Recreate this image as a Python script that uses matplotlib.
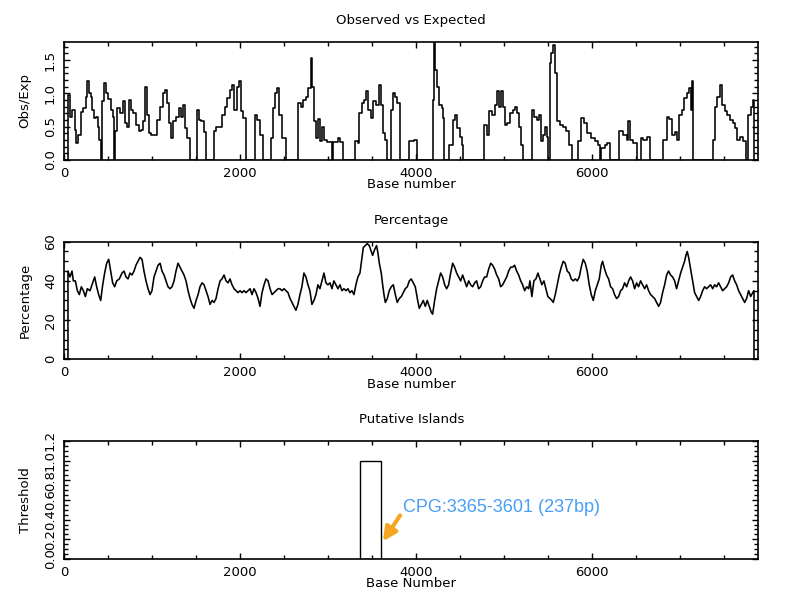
import numpy as np
import matplotlib
matplotlib.use("Agg")
import matplotlib.pyplot as plt
from matplotlib.ticker import MultipleLocator, FixedLocator

seq_len = 7893

# observed/expected CpG ratio (step breakpoints: base, value from that base on)
oe_base = [0, 45, 68, 91, 121, 136, 163, 190, 220, 250, 265, 280, 303, 322, 341, 364, 387, 402, 417,
           436, 455, 478, 504, 531, 553, 572, 584, 606, 637, 667, 694, 720, 743, 766, 788, 819, 849,
           879, 902, 921, 940, 963, 985, 1023, 1061, 1092, 1122, 1145, 1167, 1190, 1213, 1243, 1273,
           1304, 1334, 1357, 1376, 1402, 1433, 1508, 1531, 1561, 1592, 1611, 1706, 1728, 1766, 1796,
           1827, 1857, 1887, 1910, 1933, 1963, 1986, 2009, 2039, 2069, 2172, 2198, 2228, 2266, 2350,
           2373, 2403, 2426, 2448, 2479, 2520, 2655, 2663, 2689, 2720, 2750, 2776, 2803, 2811, 2822,
           2841, 2864, 2890, 2909, 2936, 2958, 2985, 3042, 3053, 3118, 3137, 3167, 3311, 3337, 3356,
           3383, 3409, 3432, 3455, 3485, 3516, 3546, 3576, 3599, 3622, 3644, 3667, 3713, 3735, 3766,
           3788, 3819, 3925, 3978, 4008, 4198, 4205, 4220, 4243, 4266, 4292, 4311, 4323, 4380, 4418,
           4444, 4471, 4501, 4520, 4539, 4774, 4804, 4834, 4865, 4895, 4918, 4941, 4963, 4986, 5009,
           5039, 5069, 5100, 5130, 5153, 5176, 5198, 5220, 5315, 5341, 5372, 5398, 5421, 5447, 5470,
           5485, 5504, 5519, 5538, 5561, 5584, 5606, 5637, 5675, 5705, 5735, 5769, 5845, 5872, 5910,
           5948, 5985, 6035, 6073, 6092, 6103, 6148, 6175, 6205, 6311, 6357, 6395, 6414, 6433, 6471,
           6509, 6558, 6584, 6622, 6660, 6812, 6850, 6880, 6910, 6941, 6971, 6994, 7024, 7047, 7077,
           7100, 7123, 7134, 7153, 7380, 7399, 7426, 7456, 7479, 7509, 7539, 7570, 7600, 7626, 7653,
           7683, 7714, 7752, 7778, 7805, 7828, 7843, 7893]
oe_val = [0, 0.98, 0.65, 0.75, 0.45, 0.25, 0.38, 0.72, 0.78, 0.95, 1.18, 1.0, 0.95, 0.75, 0.63, 0.65,
          0.5, 0.3, 0, 0.88, 1.15, 1.0, 0.92, 0.75, 0.65, 0, 0.43, 0.78, 0.7, 0.88, 0.55, 0.5, 0.9,
          0.75, 0.7, 0.53, 0.43, 0.45, 0.58, 1.1, 0.68, 0.4, 0.38, 0.37, 0.6, 0.8, 1.0, 1.05, 0.85,
          0.55, 0.33, 0.58, 0.65, 0.78, 0.65, 0.82, 0.48, 0.33, 0, 0.75, 0.6, 0.58, 0.42, 0, 0.43,
          0.5, 0.5, 0.68, 0.8, 0.93, 1.05, 1.13, 0.75, 1.1, 1.18, 0.73, 0.63, 0, 0.68, 0.6, 0.38, 0,
          0.33, 0.78, 1.0, 1.08, 0.68, 0.33, 0, 0.43, 0.85, 0.8, 0.9, 0.95, 1.08, 1.2, 1.53, 1.1,
          0.58, 0.33, 0.62, 0.28, 0.5, 0.3, 0.27, 0, 0.27, 0.33, 0.27, 0, 0.28, 0.25, 0.7, 0.85, 0.9,
          1.03, 0.75, 0.63, 0.88, 0.83, 1.13, 0.83, 0.4, 0.3, 0, 0.75, 1.0, 0.95, 0.85, 0, 0.28, 0.3,
          0, 0.9, 1.75, 1.35, 1.1, 0.83, 0.78, 0.63, 0, 0.23, 0.6, 0.68, 0.48, 0.35, 0.23, 0, 0.53,
          0.38, 0.73, 0.68, 0.83, 1.03, 0.8, 1.03, 0.8, 0.53, 0.55, 0.7, 0.75, 0.8, 0.7, 0.5, 0.23, 0,
          0.75, 0.65, 0.6, 0.68, 0.28, 0.38, 0.5, 0.35, 0, 1.45, 1.6, 1.73, 1.3, 0.58, 0.53, 0.5,
          0.43, 0.23, 0, 0.28, 0.63, 0.55, 0.4, 0.33, 0.28, 0.23, 0, 0.18, 0.23, 0.25, 0, 0.43, 0.38,
          0.3, 0.58, 0.3, 0.25, 0, 0.33, 0.3, 0.35, 0, 0.3, 0.65, 0.62, 0.38, 0.42, 0.3, 0.68, 0.75,
          0.93, 1.0, 1.08, 0.75, 1.18, 0, 0.3, 0.8, 0.95, 1.13, 0.83, 0.73, 0.68, 0.6, 0.55, 0.48,
          0.3, 0.35, 0.28, 0, 0.68, 0.8, 0.9, 0, 0]

# GC percentage
pc_base = [0, 45, 45, 68, 91, 106, 129, 152, 174, 197, 220, 243, 265, 296, 318, 349, 371, 394, 417,
           440, 462, 485, 508, 531, 553, 576, 599, 629, 659, 682, 705, 728, 750, 773, 796, 818, 841,
           864, 887, 909, 932, 955, 978, 1000, 1023, 1046, 1069, 1092, 1114, 1137, 1160, 1182, 1205,
           1228, 1251, 1273, 1296, 1319, 1342, 1364, 1387, 1410, 1433, 1455, 1478, 1501, 1524, 1546,
           1569, 1592, 1614, 1637, 1660, 1683, 1705, 1728, 1751, 1774, 1796, 1819, 1842, 1865, 1887,
           1910, 1933, 1955, 1978, 2001, 2024, 2046, 2069, 2092, 2115, 2137, 2160, 2183, 2206, 2228,
           2251, 2274, 2296, 2319, 2342, 2365, 2387, 2410, 2433, 2455, 2478, 2501, 2524, 2546, 2569,
           2591, 2613, 2636, 2659, 2682, 2704, 2727, 2750, 2773, 2795, 2818, 2841, 2864, 2886, 2909,
           2932, 2955, 2977, 3000, 3023, 3046, 3068, 3091, 3114, 3137, 3159, 3182, 3205, 3227, 3250,
           3273, 3296, 3318, 3341, 3364, 3387, 3402, 3425, 3447, 3470, 3493, 3508, 3531, 3553, 3569,
           3584, 3606, 3622, 3637, 3652, 3675, 3697, 3720, 3743, 3766, 3788, 3811, 3834, 3857, 3879,
           3902, 3925, 3947, 3970, 3993, 4016, 4038, 4061, 4084, 4107, 4129, 4152, 4175, 4190, 4213,
           4236, 4258, 4281, 4304, 4327, 4349, 4372, 4395, 4418, 4440, 4463, 4486, 4509, 4531, 4554,
           4577, 4600, 4622, 4645, 4668, 4690, 4713, 4736, 4759, 4781, 4804, 4827, 4850, 4872, 4895,
           4918, 4941, 4963, 4986, 5009, 5032, 5054, 5077, 5100, 5122, 5145, 5168, 5191, 5213, 5236,
           5259, 5282, 5296, 5318, 5341, 5364, 5387, 5409, 5432, 5455, 5478, 5500, 5523, 5546, 5561,
           5584, 5606, 5629, 5652, 5675, 5697, 5720, 5743, 5766, 5788, 5811, 5834, 5857, 5879, 5902,
           5925, 5947, 5970, 5993, 6016, 6039, 6061, 6084, 6107, 6122, 6145, 6167, 6190, 6213, 6236,
           6258, 6281, 6304, 6327, 6349, 6372, 6395, 6418, 6440, 6463, 6486, 6509, 6531, 6554, 6577,
           6600, 6622, 6645, 6668, 6691, 6713, 6736, 6759, 6781, 6804, 6827, 6850, 6872, 6895, 6918,
           6941, 6963, 6986, 7009, 7031, 7054, 7069, 7084, 7100, 7123, 7145, 7168, 7191, 7214, 7236,
           7259, 7282, 7304, 7327, 7350, 7373, 7395, 7418, 7441, 7464, 7486, 7509, 7532, 7555, 7577,
           7600, 7623, 7646, 7668, 7691, 7714, 7737, 7759, 7782, 7805, 7828, 7843, 7843, 7893]
pc_val = [0, 0, 45, 42, 45, 40, 40, 35, 33, 37, 35, 32, 36, 35, 38, 42, 37, 33, 30, 38, 44, 49, 51,
          45, 39, 37, 40, 41, 44, 45, 42, 41, 44, 43, 45, 48, 50, 52, 51, 45, 40, 36, 33, 35, 42, 45,
          48, 49, 45, 43, 40, 37, 36, 37, 40, 45, 49, 47, 45, 43, 40, 35, 31, 28, 26, 30, 33, 37, 39,
          38, 35, 32, 28, 30, 29, 31, 36, 40, 41, 43, 40, 39, 41, 38, 36, 35, 34, 35, 34, 35, 34, 35,
          36, 33, 36, 34, 31, 27, 34, 38, 41, 40, 36, 33, 34, 35, 36, 36, 35, 36, 35, 34, 31, 29, 27,
          25, 28, 33, 37, 44, 42, 38, 35, 28, 30, 33, 38, 36, 40, 44, 39, 38, 39, 36, 40, 38, 36, 38,
          35, 36, 35, 36, 34, 35, 33, 38, 42, 44, 52, 57, 58, 59, 58, 55, 53, 56, 58, 54, 49, 44, 38,
          33, 29, 31, 35, 37, 38, 33, 29, 31, 32, 34, 36, 37, 40, 41, 39, 37, 31, 26, 28, 30, 27, 30,
          27, 24, 23, 30, 36, 40, 44, 42, 38, 36, 38, 44, 49, 47, 44, 42, 40, 43, 40, 37, 40, 38, 37,
          39, 40, 36, 37, 40, 42, 42, 46, 49, 48, 46, 43, 41, 37, 38, 40, 42, 45, 47, 47, 48, 45, 43,
          40, 38, 35, 37, 36, 40, 32, 40, 41, 44, 41, 38, 40, 36, 32, 31, 30, 29, 33, 38, 43, 47, 50,
          49, 45, 44, 41, 40, 41, 40, 42, 47, 51, 49, 45, 38, 33, 30, 35, 38, 41, 48, 50, 46, 43, 41,
          37, 36, 33, 31, 32, 35, 36, 39, 37, 40, 42, 40, 36, 39, 37, 40, 38, 36, 38, 35, 33, 32, 31,
          29, 27, 29, 34, 38, 43, 45, 43, 42, 40, 36, 40, 44, 47, 50, 53, 55, 52, 46, 40, 34, 32, 30,
          32, 35, 37, 36, 37, 38, 36, 38, 37, 39, 37, 35, 36, 37, 39, 42, 43, 40, 38, 35, 33, 31, 29,
          31, 35, 32, 34, 35, 0, 0]

# putative islands
island_start = [3365]
island_end = [3601]
island_label = "CPG:3365-3601 (237bp)"

plt.rcParams['font.family'] = 'DejaVu Sans'
plt.rcParams['font.size'] = 9.5

fig = plt.figure(figsize=(8, 6), dpi=100)
ax_w = 0.868
boxes = [[0.08, 0.7333, ax_w, 0.197],
         [0.08, 0.4012, ax_w, 0.196],
         [0.08, 0.0683, ax_w, 0.197]]


def style_axis(ax, title, ylab, xlab, ymax, ymajor, yminor, fmt):
    ax.set_xlim(0, seq_len)
    ax.set_ylim(0, ymax)
    ax.xaxis.set_major_locator(MultipleLocator(2000))
    ax.xaxis.set_minor_locator(MultipleLocator(500))
    ax.yaxis.set_major_locator(MultipleLocator(ymajor))
    ax.yaxis.set_minor_locator(MultipleLocator(yminor))
    ax.yaxis.set_major_formatter(fmt)
    ax.tick_params(which='both', direction='in', top=True, right=True, width=1)
    ax.tick_params(which='major', length=4.5, pad=5)
    ax.tick_params(which='minor', length=3)
    ax.tick_params(axis='y', labelrotation=90)
    for lbl in ax.get_yticklabels():
        lbl.set_va('center')
    for s in ax.spines.values():
        s.set_linewidth(1.2)
    ax.set_title(title, y=1.18, pad=0, va='center', fontsize=9.5)
    ax.set_xlabel(xlab)
    ax.set_ylabel(ylab)
    ax.xaxis.set_label_coords(0.5, -0.211)
    ax.xaxis.label.set_va('center')
    ax.yaxis.set_label_coords(-0.056, 0.5)
    ax.yaxis.label.set_va('center')


ax1 = fig.add_axes(boxes[0])
ax1.plot(oe_base, oe_val, color='black', lw=1.15, drawstyle='steps-post')
style_axis(ax1, "Observed vs Expected", "Obs/Exp", "Base number", 1.775, 0.5, 0.1, '{x:.1f}')

ax2 = fig.add_axes(boxes[1])
ax2.plot(pc_base, pc_val, color='black', lw=1.15)
style_axis(ax2, "Percentage", "Percentage", "Base number", 60, 20, 5, '{x:.0f}')

ax3 = fig.add_axes(boxes[2])
for s, e in zip(island_start, island_end):
    ax3.bar(s, 1.0, width=e - s, align='edge', fill=False, edgecolor='black', lw=1.0)
style_axis(ax3, "Putative Islands", "Threshold", "Base Number", 1.2, 0.2, 0.05, '{x:.1f}')
ax3.yaxis.set_major_locator(FixedLocator([0.0, 0.2, 0.4, 0.6, 0.8, 1.0, 1.2]))

ax3.annotate(island_label, xy=(island_end[0] + 25, 0.18), xytext=(3852, 0.52),
             color='#4a9ff5', fontsize=13, family='Liberation Sans',
             ha='left', va='center',
             arrowprops=dict(arrowstyle='-|>', color='#f5a623', lw=3, mutation_scale=20,
                             shrinkA=0, shrinkB=0, relpos=(0.0, 0.3)))

fig.savefig('out.png', dpi=100)
